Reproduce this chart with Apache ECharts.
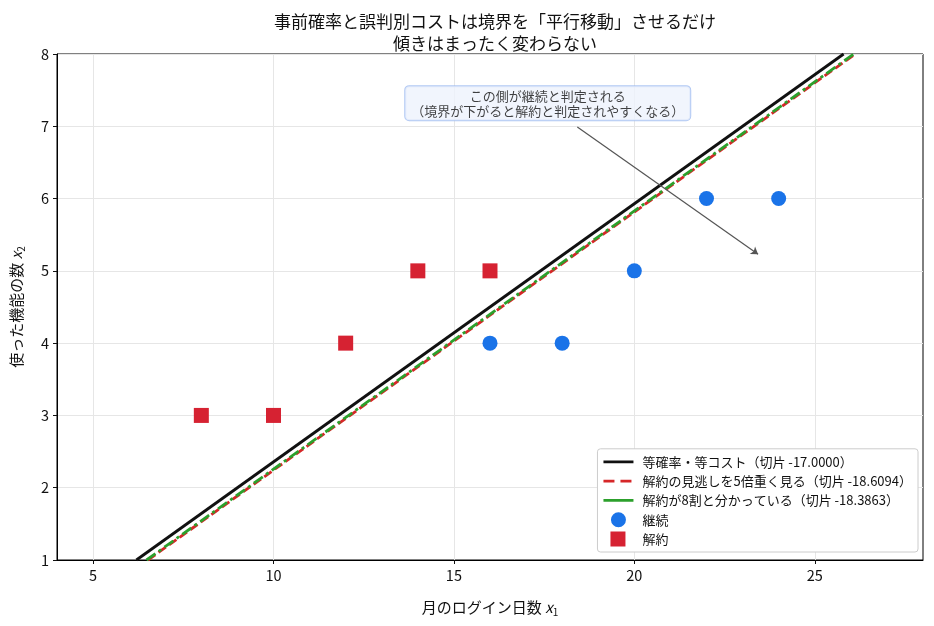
<!DOCTYPE html>
<html lang="ja">
<head>
    <meta charset="UTF-8">
    <title>事前確率と誤判別コスト</title>
    <script src="https://cdn.jsdelivr.net/npm/echarts@6/dist/echarts.min.js"></script>
    <style>
        html, body { margin: 0; padding: 0; background: #fff; }
        #chart { width: 934px; height: 626px; }
    </style>
</head>
<body>
    <div id="chart"></div>
    <script>
        var FONT = '"Noto Sans CJK JP", "Noto Sans", sans-serif';

        // 境界線の両端 (x1, x2)
        var lineBase = [[6.2, 1], [25.8, 8]];
        var lineCost = [[6.52, 1], [26.12, 8]];
        var linePrior = [[6.48, 1], [26.08, 8]];

        // 観測点
        var keepPts = [[16, 4], [18, 4], [20, 5], [22, 6], [24, 6]];
        var churnPts = [[8, 3], [10, 3], [12, 4], [14, 5], [16, 5]];

        var xTicks = [5, 10, 15, 20, 25];
        var noteAt = [17.6, 7.32];
        var arrowFromTo = [[18.42, 6.99], [23.43, 5.23]];

        var names = [
            '等確率・等コスト（切片 -17.0000）',
            '解約の見逃しを5倍重く見る（切片 -18.6094）',
            '解約が8割と分かっている（切片 -18.3863）',
            '継続',
            '解約'
        ];

        // 凡例アイコン（枠を保つため四隅に小さな点を置く）
        var corners = 'M0,0 L0.01,0 L0,0.01 Z M30,16 L29.99,16 L30,15.99 Z ';
        var iconSolid = 'path://' + corners + 'M0,6.6 L30,6.6 L30,9.4 L0,9.4 Z';
        var iconDash = 'path://' + corners + 'M0,6.6 L11,6.6 L11,9.4 L0,9.4 Z M17,6.6 L28,6.6 L28,9.4 L17,9.4 Z';
        var iconSquare = 'path://' + corners + 'M7,0.5 L22,0.5 L22,15.5 L7,15.5 Z';
        var iconCircle = 'path://' + corners + 'M15,0.5 A7.5,7.5 0 1 1 14.99,0.5 Z';

        var chart = echarts.init(document.getElementById('chart'));

        var option = {
            animation: false,
            textStyle: { fontFamily: FONT },
            title: {
                text: '事前確率と誤判別コストは境界を「平行移動」させるだけ\n傾きはまったく変わらない',
                left: 490,
                textAlign: 'center',
                top: 6,
                textStyle: { fontSize: 17, fontWeight: 'normal', color: '#111', lineHeight: 22, fontFamily: FONT }
            },
            grid: {
                left: 57, right: 11, top: 54, bottom: 66,
                show: true, borderColor: '#000', borderWidth: 1
            },
            legend: {
                orient: 'vertical',
                right: 16,
                bottom: 74,
                itemWidth: 30,
                itemHeight: 16,
                itemGap: 3.3,
                padding: [5, 6, 5, 6],
                backgroundColor: '#fff',
                borderColor: '#ccc',
                borderWidth: 1,
                borderRadius: 3,
                textStyle: { fontSize: 13, color: '#111', fontFamily: FONT, padding: [0, 0, 0, 4] },
                data: [
                    { name: names[0], icon: iconSolid },
                    { name: names[1], icon: iconDash },
                    { name: names[2], icon: iconSolid },
                    { name: names[3], icon: iconCircle },
                    { name: names[4], icon: iconSquare }
                ]
            },
            xAxis: {
                type: 'value',
                min: 4, max: 28,
                name: '月のログイン日数 {i|x}{s|1}',
                nameLocation: 'middle',
                nameGap: 38,
                nameTextStyle: {
                    fontSize: 15, color: '#111',
                    rich: {
                        i: { fontSize: 15, fontStyle: 'italic', color: '#111' },
                        s: { fontSize: 10, color: '#111', padding: [9, 0, 0, 0] }
                    }
                },
                axisLine: { show: true, lineStyle: { color: '#000' } },
                axisTick: { show: true, length: 4, customValues: xTicks, lineStyle: { color: '#111' } },
                axisLabel: { customValues: xTicks, fontSize: 14.5, color: '#111', margin: 8 },
                splitLine: { show: true, lineStyle: { color: '#e6e6e6' } }
            },
            yAxis: {
                type: 'value',
                min: 1, max: 8, interval: 1,
                name: '使った機能の数 {i|x}{s|2}',
                nameLocation: 'middle',
                nameGap: 31,
                nameRotate: 90,
                nameTextStyle: {
                    fontSize: 15, color: '#111',
                    rich: {
                        i: { fontSize: 15, fontStyle: 'italic', color: '#111' },
                        s: { fontSize: 10, color: '#111', padding: [9, 0, 0, 0] }
                    }
                },
                axisLine: { show: true, lineStyle: { color: '#000' } },
                axisTick: { show: true, length: 4, lineStyle: { color: '#111' } },
                axisLabel: { fontSize: 14.5, color: '#111', margin: 8 },
                splitLine: { show: true, lineStyle: { color: '#e6e6e6' } }
            },
            series: [
                {
                    name: names[0], type: 'line', data: lineBase,
                    symbol: 'none', z: 3,
                    lineStyle: { color: '#111', width: 2.8 },
                    itemStyle: { color: '#111' }
                },
                {
                    name: names[1], type: 'line', data: lineCost,
                    symbol: 'none', z: 3,
                    lineStyle: { color: '#d62728', width: 2.8, type: [9, 4] },
                    itemStyle: { color: '#d62728' }
                },
                {
                    name: names[2], type: 'line', data: linePrior,
                    symbol: 'none', z: 4,
                    lineStyle: { color: '#2ca02c', width: 2.8, type: [11, 4, 3, 4] },
                    itemStyle: { color: '#2ca02c' }
                },
                {
                    name: names[3], type: 'scatter', data: keepPts,
                    symbol: 'circle', symbolSize: 15, z: 5,
                    itemStyle: { color: '#1a73e8', opacity: 1 }
                },
                {
                    name: names[4], type: 'scatter', data: churnPts,
                    symbol: 'rect', symbolSize: 15, z: 5,
                    itemStyle: { color: '#d62232', opacity: 1 }
                },
                {
                    type: 'lines', coordinateSystem: 'cartesian2d',
                    data: [{ coords: arrowFromTo }],
                    symbol: ['none', 'arrow'], symbolSize: 7,
                    lineStyle: { color: '#555', width: 1.2, opacity: 1 },
                    z: 6, silent: true
                },
                {
                    type: 'scatter', data: [noteAt],
                    symbolSize: 1, itemStyle: { color: 'transparent' },
                    z: 7, silent: true,
                    label: {
                        show: true, position: 'inside',
                        formatter: 'この側が継続と判定される\n（境界が下がると解約と判定されやすくなる）',
                        fontSize: 13, color: '#111', lineHeight: 15, align: 'center',
                        backgroundColor: '#eef3fd', borderColor: '#9dbaf0', borderWidth: 1,
                        borderRadius: 4, padding: [2, 6, 2, 6]
                    }
                }
            ]
        };

        chart.setOption(option);
    </script>
</body>
</html>
